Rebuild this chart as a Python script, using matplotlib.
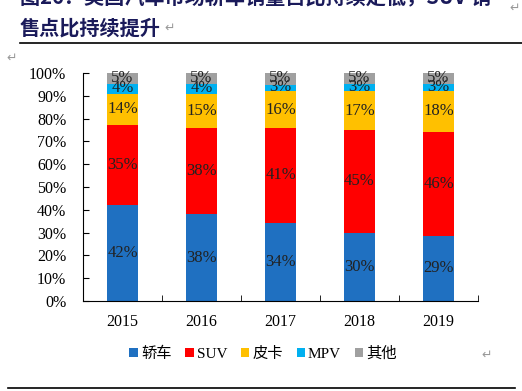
import numpy as np
import matplotlib
matplotlib.use("Agg")
import matplotlib.pyplot as plt

years = ["2015", "2016", "2017", "2018", "2019"]
series = ["轿车", "SUV", "皮卡", "MPV", "其他"]
sedan = [42, 38, 34, 30, 29]
suv = [35, 38, 41, 45, 46]
pickup = [14, 15, 16, 17, 18]
mpv = [4, 4, 3, 3, 3]
other = [5, 5, 5, 5, 5]
colors = ["#1F70C1", "#FF0000", "#FFC000", "#00B0F0", "#A0A0A0"]

plt.rcParams["font.family"] = ["Liberation Serif", "Noto Sans CJK SC", "DejaVu Sans"]

vals = np.array([sedan, suv, pickup, mpv, other], float)
shares = vals / vals.sum(0) * 100          # bars fill to 100%

fig = plt.figure(figsize=(5.22, 3.91), dpi=100)
ax = fig.add_axes([83 / 522, 90 / 391, 395 / 522, 228 / 391])
x = np.arange(len(years))
bottom = np.zeros(len(years))
for i, name in enumerate(series):
    ax.bar(x, shares[i], 0.4, bottom=bottom, color=colors[i], label=name, zorder=2)
    for xi, b, h, v in zip(x, bottom, shares[i], vals[i]):
        ax.text(xi, b + h / 2 + (0.5 if i >= 3 else 0), f"{int(v)}%", ha="center",
                va="center", fontsize=12, color="#222222")
    bottom += shares[i]

ax.set_xlim(-0.5, 4.5)
ax.set_ylim(0, 100)
ax.set_yticks(range(0, 101, 10))
ax.set_yticklabels([f"{t}%" for t in range(0, 101, 10)], fontsize=11.5)
ax.set_xticks(x)
ax.set_xticklabels(years, fontsize=11.5)
ax.set_xticks(np.arange(-0.5, 5, 1), minor=True)
ax.tick_params(axis="x", which="major", length=0, pad=9)
ax.tick_params(axis="x", which="minor", direction="in", length=4)
ax.tick_params(axis="y", direction="in", length=4, pad=12)
for s in ["top", "right"]:
    ax.spines[s].set_visible(False)

ax.legend(loc="upper center", bbox_to_anchor=(0.456, -0.14), ncol=5, frameon=False,
          fontsize=11, handlelength=0.55, handleheight=0.55, handletextpad=0.2,
          columnspacing=0.9)

# document chrome around the figure
tfont = dict(family=["Noto Sans CJK SC", "DejaVu Sans"], fontsize=14.5,
             fontweight="bold", color="#1A1A5A")
fig.text(20 / 522, 1 + 2 / 391, "图26：美国汽车市场轿车销量占比持续走低，SUV 销", va="center", **tfont)
fig.text(20 / 522, 1 - 28 / 391, "售点比持续提升", va="center", **tfont)
fig.add_artist(plt.Line2D([20 / 522, 1.0], [1 - 43 / 391] * 2, color="black", lw=1.2))
fig.add_artist(plt.Line2D([8 / 522, 515 / 522], [1 - 388 / 391] * 2, color="black", lw=1.2))
for px, py in [(170, 28), (515, 8), (12, 58), (487, 355)]:
    fig.text(px / 522, 1 - py / 391, "↵", ha="center", va="center", fontsize=9,
             color="#999999", family="DejaVu Sans")

fig.savefig("out.png", dpi=100)
